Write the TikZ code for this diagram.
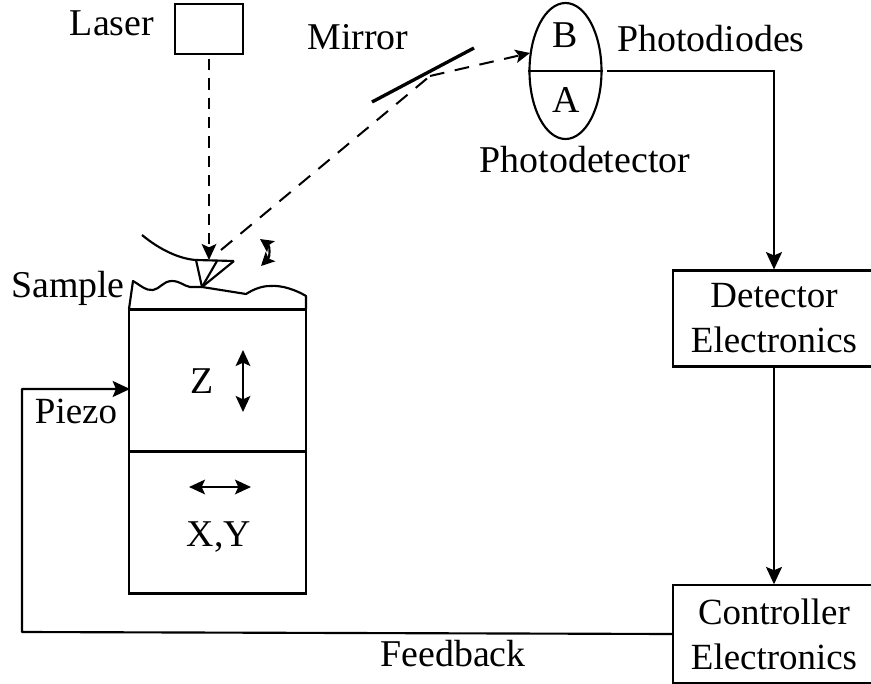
\documentclass[tikz,border=0pt]{standalone}
\usepackage{fontspec}
\setmainfont{Liberation Serif}
\usetikzlibrary{arrows.meta,calc,shapes.geometric}
\tikzset{
 ln/.style={line width=1.6pt,black},
 lbl/.style={inner sep=0pt,font=\fontsize{28.4}{34}\selectfont,align=center},
 small/.style={inner sep=0pt,font=\fontsize{27.7}{34}\selectfont,align=center},
 bx/.style={draw,line width=1.6pt,inner sep=0pt,font=\fontsize{27.7}{33.75}\selectfont,align=center},
 head/.style={-{Stealth[length=13pt,width=12pt,inset=2.5pt]}},
 arr/.style={ln,head},
 dbl/.style={ln,{Stealth[length=12pt,width=11pt,inset=2.5pt]}-{Stealth[length=12pt,width=11pt,inset=2.5pt]}},
 beam/.style={line width=1.5pt,dash pattern=on 8.5pt off 6pt},
 diag/.style={line width=1.5pt,dash pattern=on 11pt off 8pt},
}
\begin{document}
\begin{tikzpicture}[x=0.75pt,y=-0.75pt]
\useasboundingbox (0,0) rectangle (871,684);
% laser
\node[draw,line width=1.6pt,minimum width=51pt,minimum height=37.5pt,inner sep=0pt] (laser) at (209,29) {};
\node[lbl] (laserT) at (112,23) {Laser};
\node[lbl] (mirrorT) at (358,37) {Mirror};
\coordinate (m1) at (372,102);
\coordinate (m2) at (474,48);
\draw[line width=2.5pt] (m1) -- (m2);
% photodetector
\node[draw,ellipse,line width=1.6pt,minimum width=54pt,minimum height=102pt,inner sep=0pt] (pd) at (565.5,71) {};
\draw[ln] (pd.west) -- (pd.east);
\node[lbl] (B) at (565,35) {B};
\node[lbl] (A) at (566,100) {A};
\node[lbl] (pdT) at (711,39) {Photodiodes};
\node[lbl] (detT) at (585,160) {Photodetector};
% boxes
\node[bx,minimum width=151.5pt,minimum height=72pt] (det) at (774,318.5) {Detector\\Electronics};
\node[bx,minimum width=151.5pt,minimum height=73pt] (ctl) at (774,634) {Controller\\Electronics};
\coordinate (pdout) at (607,71);
\draw[arr] (pdout) -| (det.north);
\draw[arr] (det.south) -- (ctl.north);
% beam
\coordinate (tip) at (209,260);
\coordinate (hit) at (430,76);
\coordinate (pdin) at (530,53);
\draw[beam,-{Stealth[length=12pt,width=11pt,inset=2.5pt]}] (laser.south) ++(0,4) -- (tip);
\draw[diag] (221,250) -- (hit);
\draw[diag,-{Stealth[length=11pt,width=10pt,inset=2.5pt]}] (hit) -- (pdin);
% cantilever and tip
\draw[ln] (142,235) .. controls (160,250) and (180,259) .. (196,260) -- (234,261);
\draw[ln,line join=round] (196,260) -- (202,287) -- (234,261);
\draw[ln] (217,261) -- (202,287);
% curved arrow
\draw[ln,{Stealth[length=10pt,width=10pt,inset=2pt]}-{Stealth[length=10pt,width=10pt,inset=2pt]}] (260,239) .. controls (270,246) and (270,257) .. (261,266);
% sample surface
\coordinate (bl) at (129,309);
\coordinate (br) at (306,309);
\draw[ln,line join=round] (bl) -- (133,281) .. controls (140,285) and (146,291) .. (153,290)
 .. controls (160,289) and (163,281) .. (172,281) .. controls (180,281) and (184,286) .. (190,287)
 -- (202,287) -- (246,294) .. controls (254,289) and (262,286) .. (270,286)
 .. controls (282,285) and (296,290) .. (306,296) -- (br);
% stage
\node[draw,line width=1.6pt,minimum width=132.75pt,minimum height=106.5pt,inner sep=0pt] (zb) at (217.5,380.5) {};
\node[draw,line width=1.6pt,minimum width=132.75pt,minimum height=106.5pt,inner sep=0pt] (xy) at (217.5,522.5) {};
\node[lbl] (zT) at (202,381) {Z};
\node[lbl] (xyT) at (219,537) {X,Y};
\coordinate (z1) at (243,350);
\coordinate (z2) at (243,412);
\coordinate (x1) at (189,487);
\coordinate (x2) at (251,487);
\draw[dbl] (z1) -- (z2);
\draw[dbl] (x1) -- (x2);
\node[lbl] (sampleT) at (68,288) {Sample};
\node[small] (piezoT) at (76,411) {Piezo};
\node[lbl] (fbT) at (453,654) {Feedback};
% feedback
\coordinate (fb1) at (22,632);
\coordinate (fb2) at (22,389);
\coordinate (fb3) at (130,389);
\draw[arr,line join=round] (ctl.west) -- (fb1) -- (fb2) -- (fb3);
\end{tikzpicture}
\end{document}
